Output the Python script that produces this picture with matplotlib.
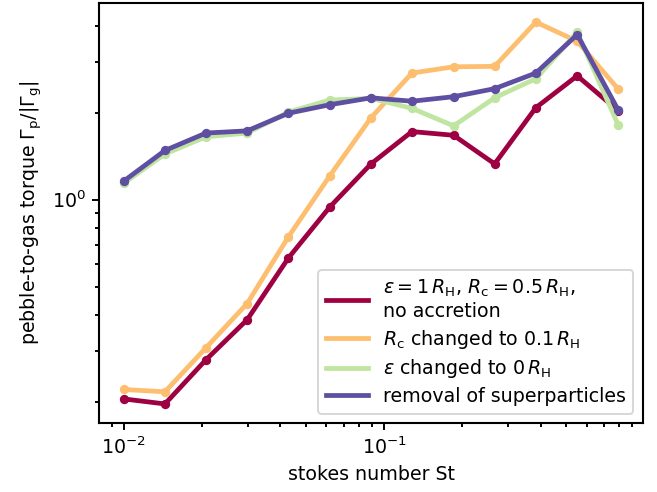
import numpy as np
import matplotlib
matplotlib.use("Agg")
import matplotlib.pyplot as plt

# Stokes numbers of the simulated pebble sizes
stokes = [0.0100, 0.0144, 0.0207, 0.0298, 0.0429, 0.0619, 0.0891,
          0.128, 0.185, 0.266, 0.383, 0.552, 0.794]

# Pebble-to-gas torque ratio for each model variant
torque_fiducial = [0.205, 0.197, 0.280, 0.385, 0.629, 0.944, 1.33,
                   1.72, 1.67, 1.33, 2.08, 2.68, 2.03]
torque_rc_small = [0.221, 0.217, 0.308, 0.438, 0.744, 1.21, 1.92,
                   2.74, 2.88, 2.89, 4.11, 3.53, 2.41]
torque_eps_zero = [1.14, 1.44, 1.65, 1.70, 2.01, 2.21, 2.24,
                   2.07, 1.80, 2.25, 2.62, 3.79, 1.81]
torque_no_superp = [1.16, 1.48, 1.70, 1.73, 1.99, 2.13, 2.25,
                    2.19, 2.27, 2.42, 2.74, 3.72, 2.04]

labels = [
    r"$\varepsilon = 1\,R_\mathrm{H}$, $R_\mathrm{c} = 0.5\,R_\mathrm{H}$," + "\nno accretion",
    r"$R_\mathrm{c}$ changed to $0.1\,R_\mathrm{H}$",
    r"$\varepsilon$ changed to $0\,R_\mathrm{H}$",
    "removal of superparticles",
]
colors = ["#9e0142", "#fdbf6f", "#bfe5a0", "#5e4fa2"]

dpi = 137
fig, ax = plt.subplots(figsize=(657 / dpi, 492 / dpi), dpi=dpi)
series = [torque_fiducial, torque_rc_small, torque_eps_zero, torque_no_superp]
for vals, lab, col in zip(series, labels, colors):
    ax.plot(stokes, vals, "o-", color=col, lw=2.5, ms=3.9, label=lab)

ax.set_xscale("log")
ax.set_yscale("log")
ax.set_xlabel("stokes number St")
ax.set_ylabel(r"pebble-to-gas torque $\Gamma_\mathrm{p}/|\Gamma_\mathrm{g}|$")
ax.tick_params(which="both", width=1.0)
for sp in ax.spines.values():
    sp.set_linewidth(1.1)

leg = ax.legend(loc="lower right", labelspacing=0.35, handlelength=2.2)
for h in leg.get_lines():
    h.set_marker("")
    h.set_linewidth(2.5)

fig.subplots_adjust(left=0.1507, right=0.9787, top=0.9939, bottom=0.1402)
fig.savefig("out.png", dpi=dpi)
